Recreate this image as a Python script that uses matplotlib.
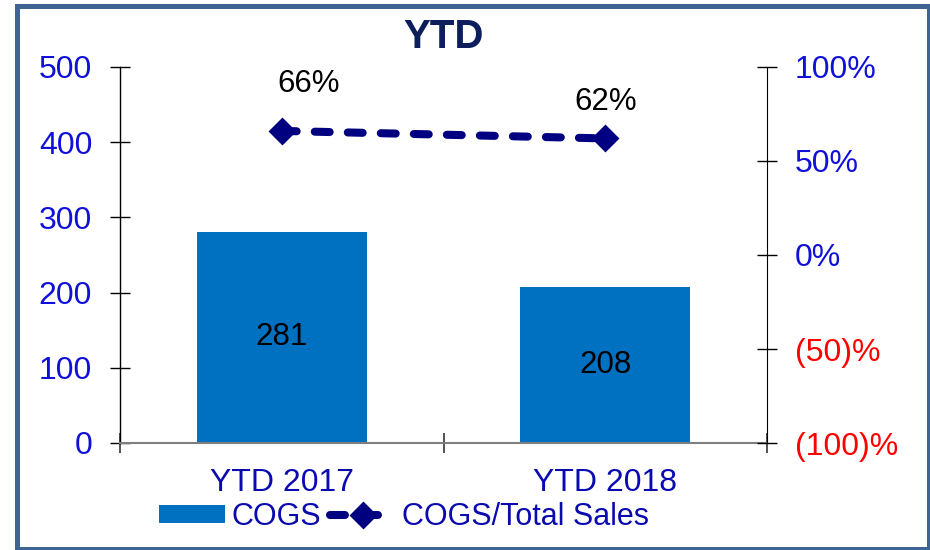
import matplotlib
matplotlib.use("Agg")
import matplotlib.pyplot as plt
from matplotlib.patches import Rectangle
from matplotlib.ticker import FixedLocator

# data
categories = ["YTD 2017", "YTD 2018"]
cogs = [281, 208]
cogs_ratio = [0.66, 0.62]
ratio_labels = ["66%", "62%"]
left_ticks = [0, 100, 200, 300, 400, 500]
right_ticks = [-1.0, -0.5, 0.0, 0.5, 1.0]
right_labels = ["(100)%", "(50)%", "0%", "50%", "100%"]

# colours
bar_color = "#0070C0"
line_color = "#000080"
blue = "#1010D8"
dark_blue = "#0A0AB0"
red = "#FF0000"
title_color = "#0C1E5B"

plt.rcParams["font.family"] = ["Liberation Sans", "DejaVu Sans"]

W, H = 930, 550
fig = plt.figure(figsize=(W / 100, H / 100), dpi=100)

def px(x0, y0, x1, y1):
    # pixel box (top-left origin) -> figure fraction rect
    return [x0 / W, 1 - y1 / H, (x1 - x0) / W, (y1 - y0) / H]

ax = fig.add_axes(px(120, 67, 767, 443))
ax2 = ax.twinx()

x = range(len(categories))
bars = ax.bar(x, cogs, width=0.525, color=bar_color, zorder=2, label="COGS")
ax.set_xlim(-0.5, 1.5)
ax.set_ylim(0, 500)

# x axis: ticks at category boundaries, labels at centres
ax.xaxis.set_major_locator(FixedLocator([-0.5, 0.5, 1.5]))
ax.set_xticklabels([])
ax.xaxis.set_minor_locator(FixedLocator(list(x)))
ax.set_xticklabels(categories, minor=True)
ax.tick_params(axis="x", which="major", direction="inout", length=14, width=1.2, color="#333333")
ax.tick_params(axis="x", which="minor", length=0, pad=18, labelsize=23, labelcolor=dark_blue)

ax.set_yticks(left_ticks)
ax.tick_params(axis="y", direction="inout", length=14, width=1, color="black",
               labelsize=23, labelcolor=blue, pad=13)

for s in ["top", "right"]:
    ax.spines[s].set_visible(False)
ax.spines["bottom"].set_color("#7f7f7f")
ax.spines["bottom"].set_linewidth(1.5)
ax.spines["left"].set_linewidth(1)

# bar value labels
for xi, v in zip(x, cogs):
    ax.text(xi, v / 2, str(v), ha="center", va="center", fontsize=22.5, color="black")

# ratio line on the secondary axis
line, = ax2.plot(list(x), cogs_ratio, color=line_color, linewidth=5.8,
                 dash_capstyle="round", marker="D", markersize=12.5,
                 markeredgewidth=2, markerfacecolor=line_color,
                 markeredgecolor=line_color, label="COGS/Total Sales", zorder=3)
line.set_dashes((1.85, 2.25))
ax2.set_ylim(-1, 1)
ax2.set_yticks(right_ticks)
ax2.set_yticklabels(right_labels)
ax2.tick_params(axis="y", direction="inout", length=14, width=1, color="black",
                labelsize=23, pad=13)
for lbl, v in zip(ax2.get_yticklabels(), right_ticks):
    lbl.set_color(red if v < 0 else blue)
for s in ["top", "left", "bottom"]:
    ax2.spines[s].set_visible(False)

# ratio labels
offsets = [(19, 34), (0, 26)]
for xi, v, t, off in zip(x, cogs_ratio, ratio_labels, offsets):
    ax2.annotate(t, (xi, v), xytext=off, textcoords="offset points",
                 ha="center", va="center", fontsize=22.5, color="black")

# title
fig.text(443.5 / W, 1 - 37 / H, "YTD", ha="center", va="center", fontsize=29,
         fontweight="bold", color=title_color,
         family=["Liberation Sans Narrow", "Liberation Sans", "DejaVu Sans"])

# legend
leg = fig.legend([bars, line], ["COGS", "COGS/Total Sales"], loc="center",
                 bbox_to_anchor=(404 / W, 1 - 517 / H), ncol=2, frameon=False,
                 fontsize=22, handlelength=2.15, handleheight=0.55,
                 handletextpad=0.2, columnspacing=0.3, borderpad=0)
for t in leg.get_texts():
    t.set_color(dark_blue)

# outer frame
fig.patches.append(Rectangle((16.5 / W, 1 - 548.5 / H), (928.5 - 16.5) / W, (548.5 - 5.5) / H,
                             transform=fig.transFigure, fill=False,
                             edgecolor="#3E6494", linewidth=3.6, zorder=10))

fig.savefig("out.png", dpi=100)
